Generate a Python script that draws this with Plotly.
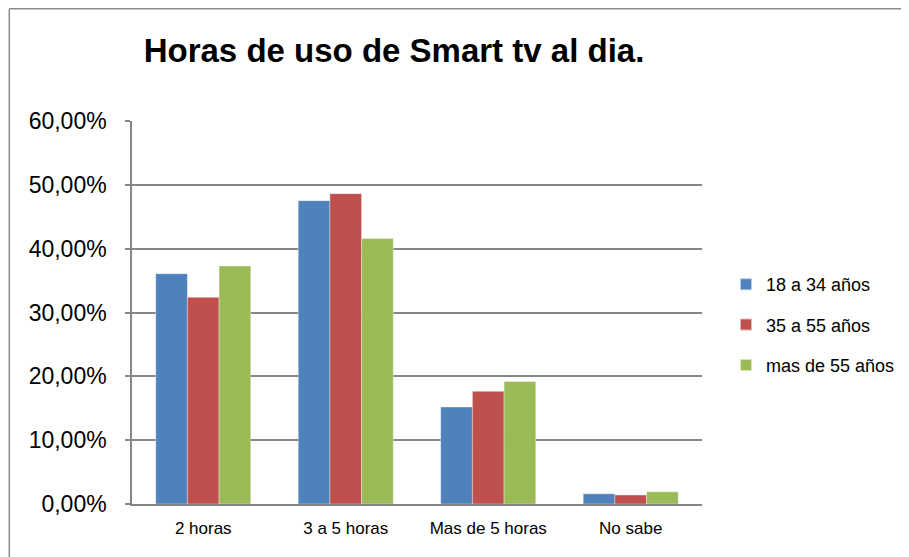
import plotly.graph_objects as go

categories = ["2 horas", "3 a 5 horas", "Mas de 5 horas", "No sabe"]
series_names = ["18 a 34 años", "35 a 55 años", "mas de 55 años"]
vals_18_34 = [0.3608, 0.4752, 0.1520, 0.0160]
vals_35_55 = [0.3238, 0.4862, 0.1765, 0.0140]
vals_55_mas = [0.3729, 0.4160, 0.1920, 0.0190]
colors = ["#4F81BD", "#C0504D", "#9BBB59"]

# page body has an 8px margin: the figure is placed at (8, 8)
OFF = 8
W, H = 909 - OFF, 557 - OFF
L, R, T, B = 132 - OFF, 702 - OFF, 121 - OFF, 504 - OFF

fig = go.Figure()
for i, (name, vals, col) in enumerate(zip(series_names, [vals_18_34, vals_35_55, vals_55_mas], colors)):
    fig.add_trace(go.Bar(
        x=categories, y=vals, name=name, legendgroup="g%d" % i,
        marker=dict(color=col, line=dict(width=0.6, color="rgba(255,255,255,0.6)")),
        hovertemplate="%{x}: %{y:.2%}<extra>" + name + "</extra>",
    ))

def px_x(p):
    return (p - L) / (R - L)

def px_y(p):
    return (B - p) / (B - T)

fig.update_layout(
    width=W, height=H,
    margin=dict(l=L, r=W - R, t=T, b=H - B, pad=0, autoexpand=False),
    paper_bgcolor="white", plot_bgcolor="white",
    separators=", ",
    barmode="group", bargap=0.333, bargroupgap=0,
    font=dict(family="Liberation Sans", color="#000000"),
    title=dict(
        text="<b>Horas de uso de Smart tv al dia.</b>",
        x=386 / W, xanchor="center", y=1 - 42 / H, yanchor="middle",
        font=dict(family="Liberation Sans", size=33, color="#000000"),
    ),
    legend=dict(
        x=px_x(718), xanchor="left", y=px_y(258), yanchor="top",
        font=dict(size=18, family="Liberation Sans"),
        itemsizing="constant", tracegroupgap=14, itemwidth=30,
        traceorder="grouped",
        bgcolor="rgba(0,0,0,0)",
    ),
    xaxis=dict(
        automargin=False,
        showline=True, linecolor="#868686", linewidth=1.5,
        ticks="", tickfont=dict(size=17, family="Liberation Sans"),
        ticklabelstandoff=8,
        showgrid=False,
    ),
    yaxis=dict(
        automargin=False,
        range=[0, 0.6], dtick=0.1, tickformat=".2%",
        showline=True, linecolor="#868686", linewidth=1.5,
        ticks="outside", ticklen=5, tickcolor="#868686", tickwidth=1.5,
        showgrid=True, gridcolor="#868686", gridwidth=1.5,
        zeroline=False,
        tickfont=dict(size=23, family="Liberation Sans"),
        ticklabelstandoff=14,
    ),
    shapes=[
        dict(type="line", xref="paper", yref="paper",
             x0=px_x(1.3), x1=px_x(W), y0=px_y(0.8), y1=px_y(0.8),
             line=dict(color="#8a8a8a", width=1.5)),
        dict(type="line", xref="paper", yref="paper",
             x0=px_x(1.3), x1=px_x(1.3), y0=px_y(0.8), y1=px_y(H),
             line=dict(color="#8a8a8a", width=1.5)),
    ],
)

fig.write_html("out.html")
